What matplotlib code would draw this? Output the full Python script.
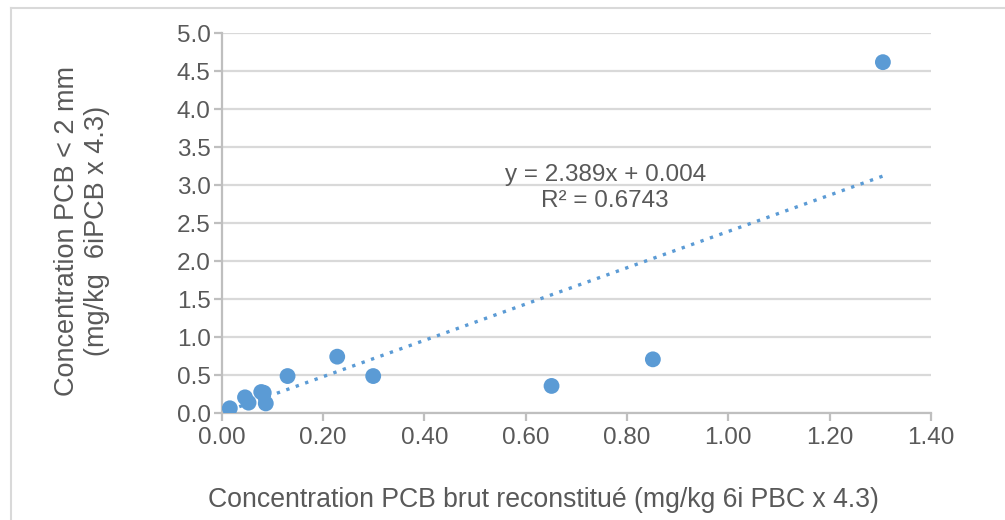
import numpy as np
import matplotlib.pyplot as plt
from matplotlib.lines import Line2D

plt.rcParams['font.family'] = ['Liberation Sans', 'DejaVu Sans']

# Data
pcb_brut = [0.016, 0.046, 0.053, 0.078, 0.083, 0.087, 0.130, 0.228, 0.299, 0.651, 0.851, 1.305]
pcb_2mm = [0.066, 0.21, 0.14, 0.28, 0.27, 0.13, 0.49, 0.745, 0.49, 0.36, 0.71, 4.62]

# Linear trendline as shown on the chart
slope = 2.389
intercept = 0.004
r2 = 0.6743

x_ticks = [0.0, 0.2, 0.4, 0.6, 0.8, 1.0, 1.2, 1.4]
y_ticks = [0.0, 0.5, 1.0, 1.5, 2.0, 2.5, 3.0, 3.5, 4.0, 4.5, 5.0]

blue = '#5B9BD5'
text_gray = '#595959'
grid_gray = '#D9D9D9'
axis_gray = '#BFBFBF'

fig = plt.figure(figsize=(10.05, 5.2), dpi=100)
ax = fig.add_axes([0.2206, 0.2052, 0.7058, 0.7308])

# trendline
xs = np.array([min(pcb_brut), max(pcb_brut)])
ax.plot(xs, slope * xs + intercept, linestyle=(0, (1, 2.0)), color=blue,
        linewidth=2.4, zorder=2)

ax.scatter(pcb_brut, pcb_2mm, s=130, color=blue, edgecolors='none', zorder=3)

ax.set_xlim(0, 1.4)
ax.set_ylim(0, 5.0)
ax.set_xticks(x_ticks)
ax.set_yticks(y_ticks)
ax.set_xticklabels([f'{v:.2f}' for v in x_ticks])
ax.set_yticklabels([f'{v:.1f}' for v in y_ticks])

ax.yaxis.grid(True, color=grid_gray, linewidth=1.6)
ax.set_axisbelow(True)

for side in ['top', 'right']:
    ax.spines[side].set_visible(False)
for side in ['left', 'bottom']:
    ax.spines[side].set_color(axis_gray)
    ax.spines[side].set_linewidth(1.6)

ax.tick_params(axis='both', colors=axis_gray, width=1.6, length=6,
               labelcolor=text_gray, labelsize=17.5)
ax.tick_params(axis='x', pad=4)
ax.tick_params(axis='y', pad=2)

ax.set_xlabel('Concentration PCB brut reconstitué (mg/kg 6i PBC x 4.3)',
              fontsize=19.2, color=text_gray)
ax.set_ylabel('Concentration PCB < 2 mm\n(mg/kg  6iPCB x 4.3)',
              fontsize=19.5, color=text_gray, linespacing=1.22)
ax.xaxis.set_label_coords(0.4535, -0.228)
ax.xaxis.label.set_va('center')
ax.yaxis.set_label_coords(-0.197, 0.48)
ax.yaxis.label.set_va('center')
ax.yaxis.label.set_ha('center')

ax.text(0.757, 3.14, f'y = {slope}x + {intercept:.3f}', fontsize=17.5,
        color=text_gray, ha='center', va='center')
ax.text(0.757, 2.79, f'R² = {r2}', fontsize=17.5,
        color=text_gray, ha='center', va='center')

# outer chart border
fig.add_artist(Line2D([11 / 1005, 11 / 1005], [0, 1 - 8 / 520],
                      transform=fig.transFigure, color=grid_gray, linewidth=1.5))
fig.add_artist(Line2D([11 / 1005, 1], [1 - 8 / 520, 1 - 8 / 520],
                      transform=fig.transFigure, color=grid_gray, linewidth=1.5))

fig.savefig('out.png', dpi=100)
